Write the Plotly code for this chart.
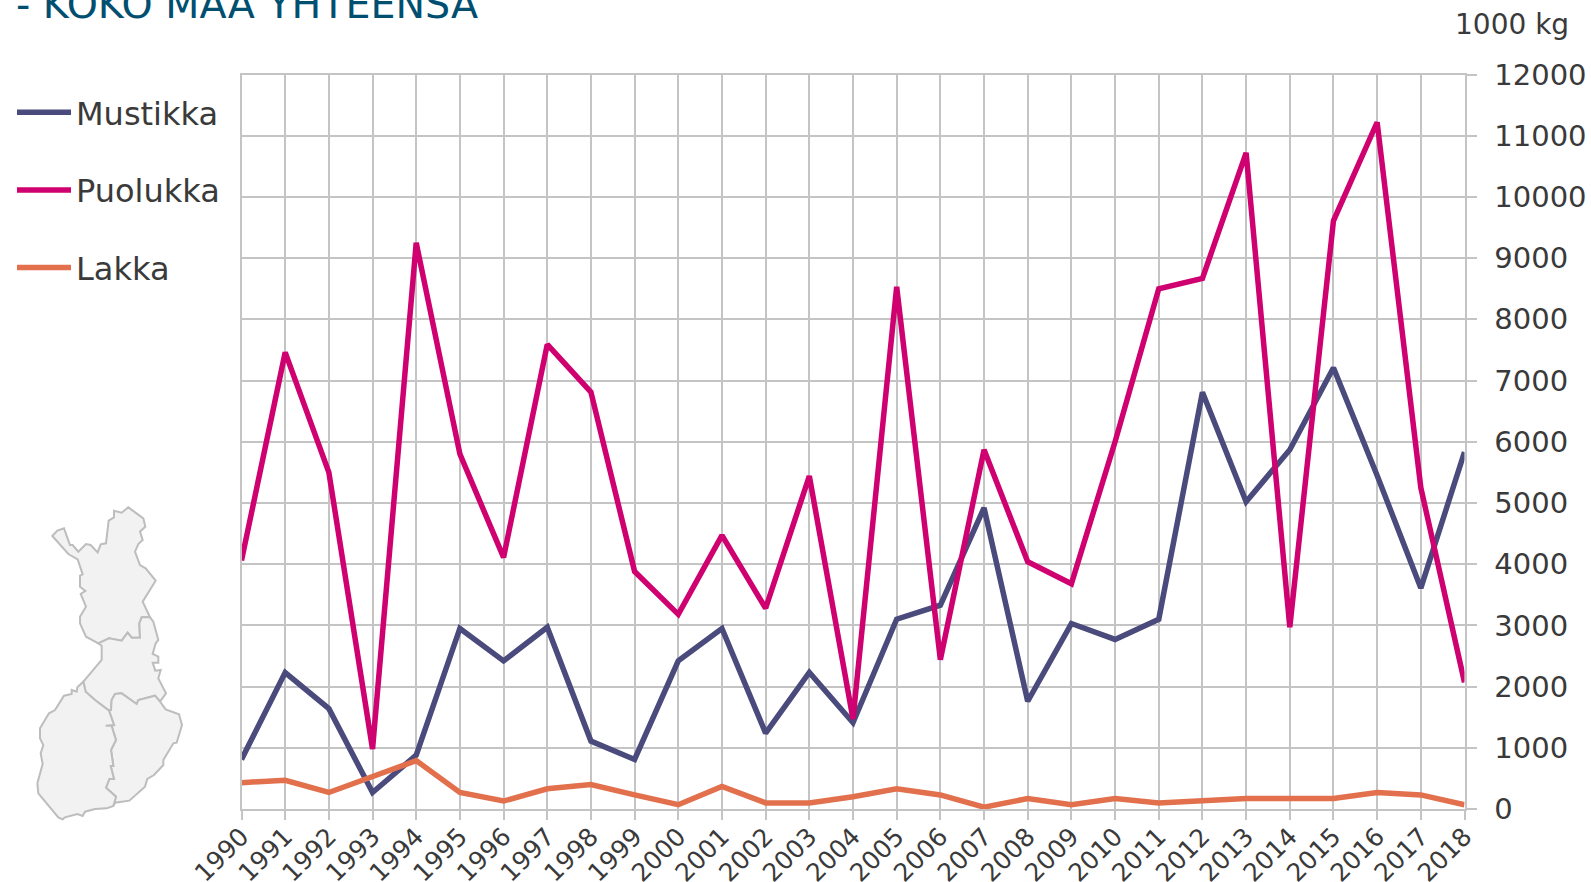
import plotly.graph_objects as go

W, H = 1591, 882
years = list(range(1990, 2019))
mustikka = [810, 2230, 1640, 270, 880, 2950, 2420, 2970, 1110, 810, 2420, 2950, 1240, 2230, 1410,
            3100, 3330, 4920, 1760, 3030, 2770, 3100, 6810, 5020, 5870, 7210, 5450, 3610, 5830]
puolukka = [4060, 7460, 5500, 980, 9250, 5800, 4110, 7590, 6810, 3880, 3180, 4470, 3280, 5440, 1470,
            8530, 2440, 5870, 4040, 3680, 6000, 8500, 8670, 10720, 2970, 9610, 11220, 5250, 2070]
lakka = [430, 470, 270, 530, 790, 270, 130, 330, 400, 230, 70, 370, 100, 100, 200,
         330, 230, 30, 170, 70, 170, 100, 130, 170, 170, 170, 270, 230, 70]
y_ticks = list(range(0, 13000, 1000))
title_text = "- KOKO MAA YHTEENSÄ"
unit_text = "1000 kg"

map_north = [(157,168),(172,152),(192,145),(210,195),(218,195),(235,215),(258,192),(272,195),(293,217),(302,193),(318,190),(326,122),(342,112),(342,92),(365,98),(385,82),(430,115),(436,140),(420,155),(428,180),(415,192),(405,215),(420,255),(437,265),(467,302),(428,365),(450,412),(425,412),(418,430),(420,473),(395,473),(383,458),(365,482),(327,475),(295,490),(258,470),(240,430),(240,410),(258,380),(242,342),(256,333),(240,320),(240,287),(248,283),(233,238),(205,222),(157,168)]
map_middle = [(295,490),(327,475),(365,482),(383,458),(395,473),(420,473),(418,430),(425,412),(450,412),(460,425),(475,480),(467,490),(458,522),(475,530),(475,548),(458,548),(466,572),(482,570),(475,595),(498,640),(480,665),(465,647),(415,660),(410,672),(365,640),(345,642),(335,660),(333,690),(327,692),(285,660),(257,635),(250,605),(305,540),(305,497),(295,490)]
map_se = [(327,692),(333,690),(335,660),(345,642),(365,640),(410,672),(415,660),(465,647),(480,665),(497,688),(537,703),(546,735),(530,788),(520,790),(490,840),(490,855),(462,885),(442,897),(435,920),(388,962),(345,968),(340,978),(348,950),(318,923),(328,897),(342,897),(332,858),(340,858),(333,810),(348,780),(340,755),(335,737),(317,737),(342,735),(327,692)]
map_sw = [(250,605),(257,635),(285,660),(327,692),(342,735),(317,737),(335,737),(340,755),(348,780),(333,810),(340,858),(332,858),(342,897),(328,897),(318,923),(348,950),(340,978),(320,985),(285,987),(255,995),(248,1008),(232,1002),(195,1012),(188,1018),(175,1012),(115,940),(112,910),(128,852),(122,820),(130,795),(120,775),(120,745),(147,700),(165,690),(192,647),(215,642),(215,630),(230,635),(232,622),(250,605)]

FONT = "DejaVu Sans"
TEXT = "#3a3a3a"
GRID = "#c4c4c4"
L, R, T, B = 241.5, 1464.5, 74.5, 809


def region_path(region):
    pts = [(p[0] / 3 / W, 1 - (480 + p[1] / 3) / H) for p in region]
    return "M" + " L".join(f"{x:.5f},{y:.5f}" for x, y in pts) + " Z"


fig = go.Figure()
for name, vals, color in (("Mustikka", mustikka, "#4a4a7c"),
                          ("Puolukka", puolukka, "#cf006f"),
                          ("Lakka", lakka, "#e2704c")):
    fig.add_trace(go.Scatter(x=years, y=vals, name=name, legendgroup=name, mode="lines", cliponaxis=False,
                             line=dict(color=color, width=5.5)))

axis_common = dict(showgrid=True, gridcolor=GRID, gridwidth=2, ticks="outside", tickcolor=GRID, tickwidth=2,
                   showline=True, linecolor=GRID, linewidth=2, mirror=True, zeroline=False, automargin=False)
fig.update_layout(
    width=W, height=H, margin=dict(l=0, r=0, t=0, b=0), autosize=False,
    paper_bgcolor="white", plot_bgcolor="white",
    font=dict(family=FONT, color=TEXT, size=28),
    xaxis=dict(domain=[L / W, R / W], range=[1990, 2018], tickmode="array", tickvals=years,
               ticktext=[str(y) for y in years], tickangle=-45, tickfont=dict(size=25, color=TEXT),
               ticklen=9, ticklabelstandoff=-8, anchor="y", **axis_common),
    yaxis=dict(domain=[1 - B / H, 1 - T / H], range=[0, 12000], tickmode="array", tickvals=y_ticks,
               ticktext=[str(v) for v in y_ticks], side="right", tickfont=dict(size=29, color=TEXT),
               ticklen=10, ticklabelstandoff=12, anchor="x", **axis_common),
    shapes=[dict(type="path", xref="paper", yref="paper", path=region_path(r), fillcolor="#f2f2f2",
                 line=dict(color="#bdbdbd", width=2), layer="below")
            for r in (map_north, map_middle, map_se, map_sw)],
    legend=dict(x=12 / W, y=1 - 85 / H, xanchor="left", yanchor="top", traceorder="grouped",
                tracegroupgap=33, itemwidth=54, bgcolor="rgba(0,0,0,0)",
                font=dict(size=32, color=TEXT, family=FONT)),
    annotations=[
        dict(text=title_text, xref="paper", yref="paper", x=14 / W, y=1 - 29 / H, xanchor="left",
             yanchor="bottom", showarrow=False, font=dict(size=39.6, color="#004f71", family=FONT)),
        dict(text=unit_text, xref="paper", yref="paper", x=1571 / W, y=1 - 25 / H, xanchor="right",
             yanchor="middle", showarrow=False, font=dict(size=28, color=TEXT, family=FONT)),
    ],
)
fig.write_html("out.html", config=dict(displayModeBar=False),
               post_script="document.body.style.margin='0';document.body.style.overflow='hidden';")
